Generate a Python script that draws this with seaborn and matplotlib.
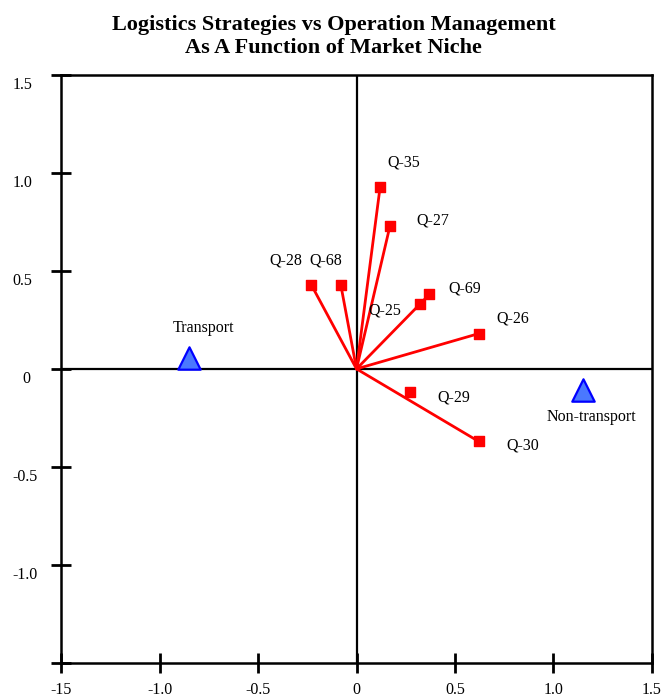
import matplotlib
matplotlib.use("Agg")
import matplotlib.pyplot as plt
from matplotlib.transforms import ScaledTranslation
import seaborn as sns
import pandas as pd

# Question loadings
questions = ["Q-35", "Q-27", "Q-28", "Q-68", "Q-69", "Q-25", "Q-26", "Q-29", "Q-30"]
q_x = [0.12, 0.17, -0.23, -0.08, 0.37, 0.32, 0.62, 0.27, 0.62]
q_y = [0.93, 0.73, 0.43, 0.43, 0.38, 0.33, 0.18, -0.12, -0.37]
# questions drawn as vectors from the origin
vector_questions = ["Q-35", "Q-27", "Q-28", "Q-68", "Q-69", "Q-26", "Q-30"]

# Market niche group centroids
groups = ["Transport", "Non-transport"]
g_x = [-0.85, 1.15]
g_y = [0.055, -0.11]

x_ticks = [-1.5, -1.0, -0.5, 0, 0.5, 1.0, 1.5]
x_tick_labels = ["-15", "-1.0", "-0.5", "0", "0.5", "1.0", "1.5"]
y_ticks = [-1.5, -1.0, -0.5, 0, 0.5, 1.0, 1.5]
y_tick_labels = ["", "-1.0", "-0.5", "0", "0.5", "1.0", "1.5"]

title = "Logistics Strategies vs Operation Management\nAs A Function of Market Niche"

sns.set_theme(style="ticks")
plt.rcParams["font.family"] = ["Liberation Serif", "DejaVu Serif"]
plt.rcParams["text.color"] = "black"
plt.rcParams["xtick.color"] = "black"
plt.rcParams["ytick.color"] = "black"

q_df = pd.DataFrame({"label": questions, "x": q_x, "y": q_y})
g_df = pd.DataFrame({"label": groups, "x": g_x, "y": g_y})

fig = plt.figure(figsize=(6.67, 7.0), dpi=100)
ax = fig.add_axes([0.0915, 0.053, 0.886, 0.840])

# zero reference lines
ax.axhline(0, color="black", lw=1.6, zorder=1)
ax.axvline(0, color="black", lw=1.6, zorder=1)

# vectors from origin
for _, r in q_df[q_df["label"].isin(vector_questions)].iterrows():
    sns.lineplot(x=[0, r["x"]], y=[0, r["y"]], ax=ax, color="#ff0000",
                 lw=2.0, sort=False, estimator=None, zorder=2)

sns.scatterplot(data=q_df, x="x", y="y", ax=ax, marker="s", s=55,
                color="#ff0000", edgecolor="#ff0000", linewidth=1.0, zorder=3)
sns.scatterplot(data=g_df, x="x", y="y", ax=ax, marker="^", s=260,
                color="#4a78ff", edgecolor="#0000ff", linewidth=1.6, zorder=3)

q_offsets = {
    "Q-35": (24, 24), "Q-27": (43, 5), "Q-28": (-25, 24), "Q-68": (-15, 24),
    "Q-69": (35, 6), "Q-25": (-35, -6), "Q-26": (34, 15), "Q-29": (44, -5),
    "Q-30": (44, -4),
}
for _, r in q_df.iterrows():
    ax.annotate(r["label"], (r["x"], r["y"]), xytext=q_offsets[r["label"]],
                textcoords="offset pixels", ha="center", va="center",
                fontsize=11.5, color="black")

g_offsets = {"Transport": (14, 30), "Non-transport": (8, -27)}
for _, r in g_df.iterrows():
    ax.annotate(r["label"], (r["x"], r["y"]), xytext=g_offsets[r["label"]],
                textcoords="offset pixels", ha="center", va="center",
                fontsize=11.5, color="black")

ax.set_xlim(-1.5, 1.5)
ax.set_ylim(-1.5, 1.5)
ax.set_xticks(x_ticks, x_tick_labels)
ax.set_yticks(y_ticks, y_tick_labels)
ax.tick_params(axis="both", direction="inout", length=15, width=2.0,
               labelsize=11.5, colors="black", pad=6)
ax.set_xlabel("")
ax.set_ylabel("")
for s in ax.spines.values():
    s.set_visible(True)
    s.set_linewidth(1.8)
    s.set_color("black")

# y tick labels sit left-aligned in the margin, a little below their ticks;
# the zero label is nudged further in
for lab in ax.get_yticklabels():
    dx = -20 if lab.get_text() == "0" else -30
    shift = ScaledTranslation(dx / 100, -8 / 100, fig.dpi_scale_trans)
    lab.set_horizontalalignment("left")
    lab.set_transform(lab.get_transform() + shift)

fig.suptitle(title, fontsize=16, fontweight="bold", y=0.979, va="top",
             linespacing=1.2, color="black")

fig.savefig("out.png", dpi=100)
